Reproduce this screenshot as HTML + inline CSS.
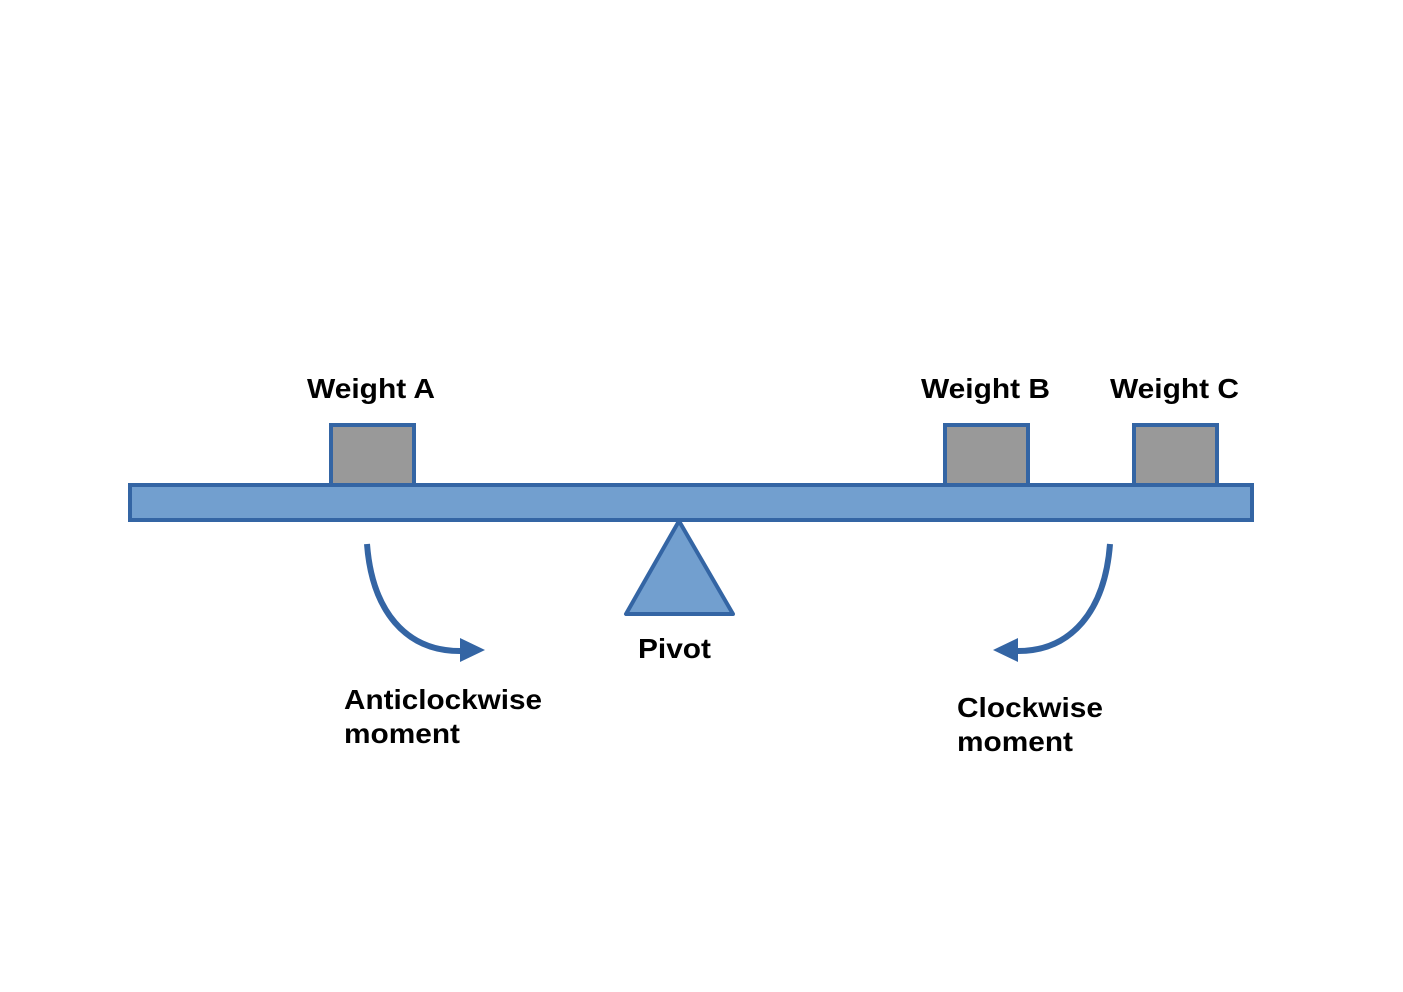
<!DOCTYPE html>
<html><head><style>
body{margin:0;background:#fff;}
svg{display:block}
text{font-family:"Liberation Sans",sans-serif;font-weight:bold;font-size:28px;fill:#000}
</style></head><body>
<svg width="1403" height="992" viewBox="0 0 1403 992">
<rect x="331" y="425" width="83" height="60" fill="#999" stroke="#3465a4" stroke-width="4"/>
<rect x="945" y="425" width="83" height="60" fill="#999" stroke="#3465a4" stroke-width="4"/>
<rect x="1134" y="425" width="83" height="60" fill="#999" stroke="#3465a4" stroke-width="4"/>
<rect x="130" y="485" width="1122" height="35" fill="#729fcf" stroke="#3465a4" stroke-width="4"/>
<polygon points="679,521 626,614 733,614" fill="#729fcf" stroke="#3465a4" stroke-width="4" stroke-linejoin="round"/>
<path d="M367,544 C372,610 405,652 462,651" fill="none" stroke="#3465a4" stroke-width="6"/>
<polygon points="460,638 485,650 460,662" fill="#3465a4"/>
<path d="M1110,544 C1105,610 1072,652 1016,651" fill="none" stroke="#3465a4" stroke-width="6"/>
<polygon points="1018,638 993,650 1018,662" fill="#3465a4"/>
<text x="307" y="398" textLength="128" lengthAdjust="spacingAndGlyphs">Weight A</text>
<text x="921" y="398" textLength="129" lengthAdjust="spacingAndGlyphs">Weight B</text>
<text x="1110" y="398" textLength="129" lengthAdjust="spacingAndGlyphs">Weight C</text>
<text x="638" y="658" textLength="73" lengthAdjust="spacingAndGlyphs">Pivot</text>
<text x="344" y="709" textLength="198" lengthAdjust="spacingAndGlyphs">Anticlockwise</text>
<text x="344" y="743" textLength="116" lengthAdjust="spacingAndGlyphs">moment</text>
<text x="957" y="717" textLength="146" lengthAdjust="spacingAndGlyphs">Clockwise</text>
<text x="957" y="751" textLength="116" lengthAdjust="spacingAndGlyphs">moment</text>
</svg>
</body></html>
